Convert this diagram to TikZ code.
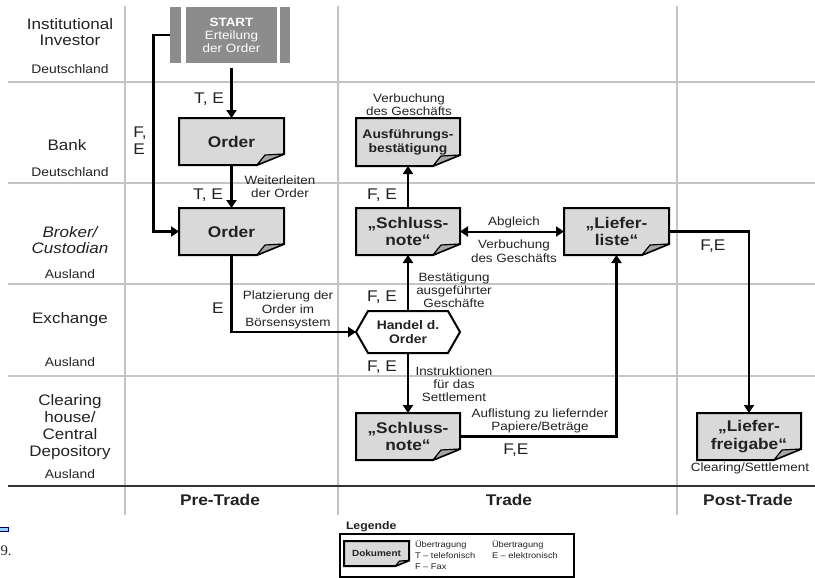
\documentclass[tikz,border=0pt]{standalone}
\usepackage{fontspec}
\setmainfont[FakeStretch=1.12]{Liberation Sans}
\newfontfamily\artserif{Liberation Serif}
\usetikzlibrary{arrows.meta}
\definecolor{docfill}{HTML}{D9D9D9}
\definecolor{startfill}{HTML}{8C8C8C}
\definecolor{gridgray}{HTML}{C4C4C4}
\definecolor{foldfill}{HTML}{A6A6A6}
\definecolor{artblue}{HTML}{99CCFF}
\definecolor{txt}{HTML}{222222}
\tikzset{
  every node/.style={inner sep=0pt, outer sep=0pt},
  gridline/.style={draw=gridgray, line width=1.1pt},
  phaseline/.style={draw=black!80, line width=1.2pt},
  flow/.style={draw=black, line width=2pt, -{Triangle[length=6pt,width=7.5pt]}},
  flowtwo/.style={draw=black, line width=1.5pt, {Triangle[length=6pt,width=7.5pt]}-{Triangle[length=6pt,width=7.5pt]}},
  docline/.style={draw=black, line width=1.5pt, fill=docfill, line join=miter},
  foldline/.style={draw=black, line width=0.9pt, fill=foldfill, line join=round},
  hexline/.style={draw=black, line width=1.5pt, fill=white},
  rowlab/.style={font=\fontsize{11.4}{12.6}\selectfont, align=center, text=txt},
  rowsub/.style={font=\fontsize{9.3}{11}\selectfont, text=txt},
  note/.style={font=\fontsize{9}{9.9}\selectfont, align=center, text=txt},
  medium/.style={font=\fontsize{11.6}{12.6}\selectfont, align=left, text=txt},
  bigdoc/.style={font=\fontsize{11.6}{13.4}\selectfont\bfseries, align=center, text=txt},
  smalldoc/.style={font=\fontsize{9.3}{10.5}\selectfont\bfseries, align=center, text=txt},
  tinydoc/.style={font=\fontsize{6.7}{8}\selectfont\bfseries, align=center, text=txt},
  legtext/.style={font=\fontsize{6.2}{7}\selectfont, anchor=west, text=txt},
  phase/.style={font=\fontsize{11.6}{13}\selectfont\bfseries, text=txt},
}
% #1 fold scale, #2 name, #3 x1, #4 y1, #5 x2, #6 y2, #7 style, #8 text
\newcommand\docbox[8][1]{%
  \path[docline] (#3,#4) -- (#5,#4) -- (#5,#6-11*#1) -- (#5-27*#1,#6) -- (#3,#6) -- cycle;
  \path[foldline] (#5-27*#1,#6) -- (#5-19*#1,#6-10*#1) -- (#5,#6-11*#1) -- cycle;
  \node[#7, minimum width={(#5-#3)*0.75pt}, minimum height={(#6-#4)*0.75pt}] (#2) at ({(#3+#5)/2},{(#4+#6)/2}) {#8};
}
\begin{document}
\begin{tikzpicture}[x=0.75pt,y=-0.75pt]
\useasboundingbox (0,0) rectangle (815,578);

% grid
\foreach \gy in {82,183,284,376} \draw[gridline] (8,\gy) -- (815,\gy);
\foreach \gx in {125,338,677} \draw[gridline] (\gx,6) -- (\gx,515);
\draw[phaseline] (8,486) -- (815,486);

% row labels
\node[rowlab] (r1) at (70,32) {Institutional\\Investor};
\node[rowsub] (r1s) at (70,69) {Deutschland};
\node[rowlab] (r2) at (67,145) {Bank};
\node[rowsub] (r2s) at (70,172) {Deutschland};
\node[rowlab, font=\fontsize{11.4}{12.6}\selectfont\itshape] (r3) at (70,240) {Broker/\\Custodian};
\node[rowsub] (r3s) at (70,274) {Ausland};
\node[rowlab] (r4) at (70,320) {Exchange};
\node[rowsub] (r4s) at (70,362) {Ausland};
\node[rowlab] (r5) at (70,427) {Clearing\\house/\\Central\\Depository};
\node[rowsub] (r5s) at (70,474) {Ausland};

% phases
\node[phase] (p1) at (220,500) {Pre-Trade};
\node[phase] (p2) at (509,500) {Trade};
\node[phase] (p3) at (748,500) {Post-Trade};

% START
\fill[startfill] (170,7) rectangle (181,63);
\fill[startfill] (186,7) rectangle (277,63);
\fill[startfill] (280,7) rectangle (290,63);
\node[minimum width=120*0.75pt, minimum height=56*0.75pt, text=white, align=center,
      font=\fontsize{9}{9.8}\selectfont] (start) at (231.5,35) {\textbf{START}\\Erteilung\\der Order};

% documents
\docbox{ordA}{179}{118}{284}{165}{bigdoc}{Order}
\docbox{ordB}{179}{208}{284}{255}{bigdoc}{Order}
\docbox{ausf}{356}{118}{460}{166}{smalldoc}{Ausführungs-\\bestätigung}
\docbox{sn1}{356}{208}{460}{255}{bigdoc}{„Schluss-\\note“}
\docbox{ll}{564}{208}{669}{255}{bigdoc}{„Liefer-\\liste“}
\docbox{sn2}{356}{413}{460}{460}{bigdoc}{„Schluss-\\note“}
\docbox{lf}{697}{413}{801}{460}{bigdoc}{„Liefer-\\freigabe“}

% hexagon
\path[hexline] (356,332) -- (368,311) -- (448,311) -- (460,332) -- (448,353) -- (368,353) -- cycle;
\node[smalldoc, minimum width=104*0.75pt, minimum height=42*0.75pt] (handel) at (408,332) {Handel d.\\Order};

% connectors
\draw[flow] ([yshift=-4pt]start.south) -- (ordA.north);
\draw[flow] (ordA.south) -- (ordB.north);
\draw[flow] ([xshift=-1.5pt]start.west) -- ++(-16,0) |- (ordB.west);
\draw[flow] (ordB.south) |- (handel.west);
\draw[flow] (handel.north) -- (sn1.south);
\draw[flow] (sn1.north) -- (ausf.south);
\draw[flowtwo] (sn1.east) -- (ll.west);
\draw[flow] (ll.east) -| (lf.north);
\draw[flow] (handel.south) -- (sn2.north);
\draw[flow] (sn2.east) -| (ll.south);

% connector labels
\node[medium] (l1) at (209,99) {T, E};
\node[medium] (l2) at (140,141) {F,\\E};
\node[medium] (l3) at (208,195) {T, E};
\node[note] (l4) at (280,187) {Weiterleiten\\der Order};
\node[note] (l5) at (409,105) {Verbuchung\\des Geschäfts};
\node[medium] (l6) at (382,195) {F, E};
\node[note] (l7) at (514,222) {Abgleich};
\node[note, font=\fontsize{9}{10.5}\selectfont] (l8) at (514,251) {Verbuchung\\des Geschäfts};
\node[medium] (l9) at (713,246) {F,E};
\node[note] (l10) at (454,290) {Bestätigung\\ausgeführter\\Geschäfte};
\node[medium] (l11) at (382,297) {F, E};
\node[medium] (l12) at (218,308) {E};
\node[note] (l13) at (288,310) {Platzierung der\\Order im\\Börsensystem};
\node[medium] (l14) at (382,367) {F, E};
\node[note] (l15) at (454,384) {Instruktionen\\für das\\Settlement};
\node[note] (l16) at (540,421) {Auflistung zu liefernder\\Papiere/Beträge};
\node[medium] (l17) at (516,450) {F,E};
\node[note] (l18) at (750,468) {Clearing/Settlement};

% legend
\node[font=\fontsize{8.2}{9}\selectfont\bfseries, anchor=west, text=txt] (leg) at (346,527) {Legende};
\draw[line width=1.8pt] (340,534) rectangle (574,577);
\docbox[0.5]{legdoc}{344}{541}{409}{566}{tinydoc}{Dokument}
\node[legtext] (lg1) at (415,545) {Übertragung};
\node[legtext] (lg2) at (415,556) {T – telefonisch};
\node[legtext] (lg3) at (415,567) {F – Fax};
\node[legtext] (lg4) at (492,545) {Übertragung};
\node[legtext] (lg5) at (492,556) {E – elektronisch};

% page artefacts
\draw[draw=blue!40!black, fill=artblue, line width=0.4pt] (-2,527) rectangle (8,531);
\node[anchor=west, font=\artserif\fontsize{11}{13}\selectfont, text=txt] (pg) at (0.5,551) {9.};
\end{tikzpicture}
\end{document}
